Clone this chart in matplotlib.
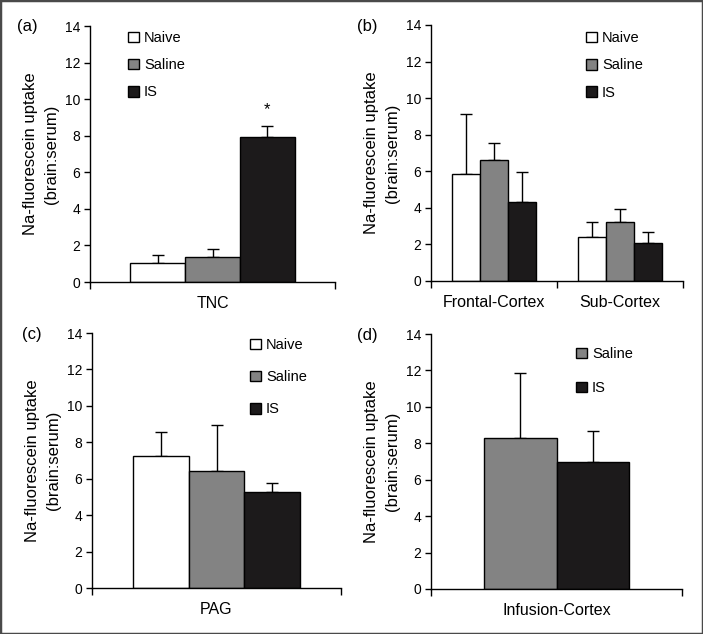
import matplotlib
matplotlib.use('Agg')
import matplotlib.pyplot as plt
from matplotlib.patches import Rectangle

plt.rcParams['font.family'] = ['Liberation Sans', 'DejaVu Sans']

# data (brain:serum ratio, mean and upper SEM)
groups = ['Naive', 'Saline', 'IS']
colors = {'Naive': '#ffffff', 'Saline': '#838383', 'IS': '#1c1a1b'}

a_cats = ['TNC']
a_means = {'Naive': [1.03], 'Saline': [1.35], 'IS': [7.95]}
a_errs = {'Naive': [0.42], 'Saline': [0.45], 'IS': [0.58]}

b_cats = ['Frontal-Cortex', 'Sub-Cortex']
b_means = {'Naive': [5.85, 2.4], 'Saline': [6.62, 3.24], 'IS': [4.3, 2.08]}
b_errs = {'Naive': [3.3, 0.85], 'Saline': [0.93, 0.72], 'IS': [1.68, 0.6]}

c_cats = ['PAG']
c_means = {'Naive': [7.27], 'Saline': [6.45], 'IS': [5.28]}
c_errs = {'Naive': [1.28], 'Saline': [2.5], 'IS': [0.51]}

d_groups = ['Saline', 'IS']
d_cats = ['Infusion-Cortex']
d_means = {'Saline': [8.28], 'IS': [7.0]}
d_errs = {'Saline': [3.57], 'IS': [1.67]}

W, H = 703, 634
fig = plt.figure(figsize=(W / 100, H / 100), dpi=100)
fig.patches.append(Rectangle((0, 0), 1, 1, transform=fig.transFigure,
                             fill=False, edgecolor='#4a4a4a', linewidth=2.5))


def make_axes(left, right, top, bottom):
    return fig.add_axes([left / W, 1 - bottom / H, (right - left) / W, (bottom - top) / H])


def panel(ax, cats, grp, means, errs, bw, tag, tag_xy, leg_xy, leg_space, star=None):
    n = len(grp)
    for i, g in enumerate(grp):
        xs = [k + (i - (n - 1) / 2) * bw for k in range(len(cats))]
        ax.bar(xs, means[g], bw, color=colors[g], edgecolor='black',
               linewidth=1.0, label=g, zorder=2)
        ax.errorbar(xs, means[g], yerr=[[0] * len(xs), errs[g]], fmt='none',
                    ecolor='black', elinewidth=1.0, capsize=4, capthick=1.0, zorder=1)
    ax.set_xlim(-0.5, len(cats) - 0.5)
    ax.set_ylim(0, 14)
    ax.set_yticks(range(0, 15, 2))
    ax.set_xticks(range(len(cats)))
    ax.set_xticklabels(cats, fontsize=11.5)
    ax.set_xticks([k - 0.5 for k in range(len(cats) + 1)], minor=True)
    ax.tick_params(axis='x', which='major', length=0, pad=10)
    ax.tick_params(axis='x', which='minor', length=5, width=1, direction='out')
    ax.tick_params(axis='y', length=4, width=1, direction='out', labelsize=10, pad=3)
    for s in ['top', 'right']:
        ax.spines[s].set_visible(False)
    for s in ['left', 'bottom']:
        ax.spines[s].set_linewidth(1.0)
    ax.set_ylabel('Na-fluorescein uptake\n(brain:serum)', fontsize=12, labelpad=4,
                  linespacing=1.5)
    fig.text(tag_xy[0] / W, 1 - tag_xy[1] / H, tag, fontsize=12, va='center', ha='center')
    if star is not None:
        ax.text(star[0], star[1], '*', ha='center', va='center', fontsize=12)
    ax.legend(loc='upper left', bbox_to_anchor=(leg_xy[0] / W, 1 - leg_xy[1] / H),
              bbox_transform=fig.transFigure, frameon=False, fontsize=10.5,
              handlelength=0.75, handleheight=0.75, handletextpad=0.35,
              labelspacing=leg_space, borderpad=0, borderaxespad=0)


ax_a = make_axes(90, 335, 26, 282)
panel(ax_a, a_cats, groups, a_means, a_errs, 0.224, '(a)', (27, 26), (128, 31), 0.9,
      star=(0.224, 9.4))

ax_b = make_axes(431, 683, 25, 281)
panel(ax_b, b_cats, groups, b_means, b_errs, 0.222, '(b)', (367, 26), (586, 31), 0.92)

ax_c = make_axes(92, 341, 333, 588)
panel(ax_c, c_cats, groups, c_means, c_errs, 0.223, '(c)', (32, 334), (250, 338), 1.25)

ax_d = make_axes(431, 682, 334, 589)
panel(ax_d, d_cats, d_groups, d_means, d_errs, 0.287, '(d)', (367, 335), (576, 347), 1.38)

fig.savefig('out.png', dpi=100)
